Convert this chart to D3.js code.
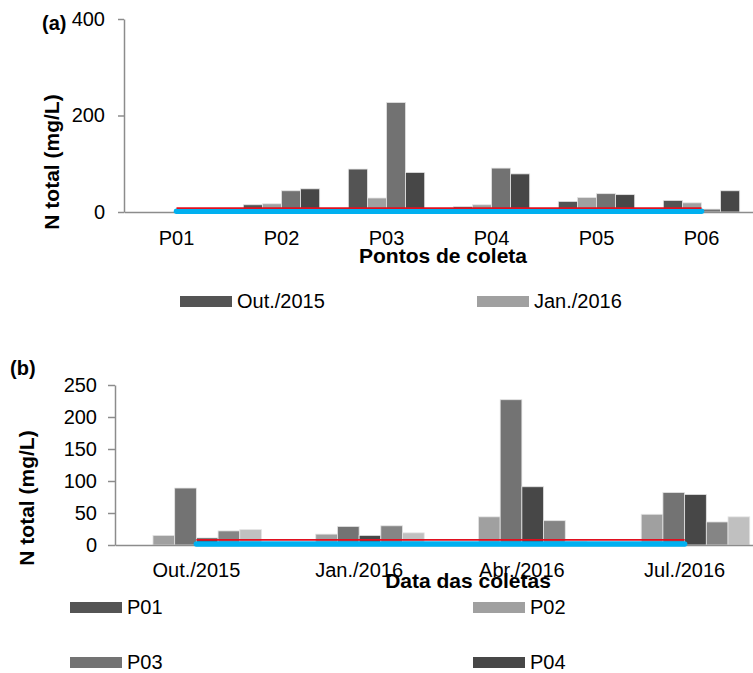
<!DOCTYPE html>
<html>
<head>
<meta charset="utf-8">
<script src="https://cdn.jsdelivr.net/npm/d3@7"></script>
<style>
  body { margin: 0; background: #fff; }
  svg { display: block; font-family: "Liberation Sans", Arial, sans-serif; }
</style>
</head>
<body>
<div id="main"></div>
<script>
// dados
const pontos = ['P01', 'P02', 'P03', 'P04', 'P05', 'P06'];
const datas = ['Out./2015', 'Jan./2016', 'Abr./2016', 'Jul./2016'];
const out2015 = [0, 15, 89, 11, 22, 24];
const jan2016 = [0, 17, 29, 15, 30, 19];
const abr2016 = [0, 44, 227, 91, 38, 6];
const jul2016 = [0, 48, 82, 79, 36, 44];
const ticksA = [0, 200, 400];
const ticksB = [0, 50, 100, 150, 200, 250];
const limiteVermelho = 8;
const limiteAzul = 1.5;

const coresDatas = ['#545454', '#a0a0a0', '#727272', '#474747'];
const coresPontos = ['#545454', '#a0a0a0', '#737373', '#474747', '#858585', '#c0c0c0'];

const series = [out2015, jan2016, abr2016, jul2016];

const svg = d3.select('#main').append('svg')
  .attr('width', 753)
  .attr('height', 673);

let drawPanel = (opt) => {
  let g = svg.append('g');
  let x0 = d3.scaleBand().domain(opt.cats).range(opt.xRange).padding(0);
  let x1 = d3.scaleBand().domain(opt.keys).range([0, x0.bandwidth()]).paddingInner(0).paddingOuter(0.75);
  let y = d3.scaleLinear().domain(opt.yDomain).range(opt.yRange);

  // barras
  g.selectAll('g.grupo')
    .data(opt.rows)
    .enter().append('g')
    .attr('class', 'grupo')
    .attr('transform', d => 'translate(' + x0(d.cat) + ',0)')
    .selectAll('rect')
    .data(d => d.vals)
    .enter().append('rect')
    .attr('x', d => x1(d.key))
    .attr('width', x1.bandwidth())
    .attr('y', d => y(d.value))
    .attr('height', d => y(0) - y(d.value))
    .attr('fill', (d, i) => opt.colors[i])
    .attr('stroke', '#e4e4e4')
    .attr('stroke-width', 0.8);

  // eixo y
  let ya = g.append('g')
    .attr('transform', 'translate(' + opt.xRange[0] + ',0)')
    .call(d3.axisLeft(y).tickValues(opt.ticks).tickSize(opt.tickSize).tickSizeOuter(0).tickPadding(opt.tickPad));
  ya.select('.domain').attr('stroke', '#8c8c8c').attr('stroke-width', 1.5);
  ya.selectAll('.tick line').attr('stroke', '#8c8c8c').attr('stroke-width', 1.5);
  ya.selectAll('.tick text').attr('font-size', 20).attr('fill', '#000').attr('font-family', null);

  // eixo x
  let xa = g.append('g')
    .attr('transform', 'translate(0,' + y(0) + ')')
    .call(d3.axisBottom(x0).tickSize(0).tickPadding(opt.xPad));
  xa.select('.domain').attr('stroke', '#8c8c8c').attr('stroke-width', 1.5);
  xa.selectAll('.tick text').attr('font-size', 20).attr('fill', '#000').attr('font-family', null);

  // linhas de referencia
  let c0 = x0(opt.cats[0]) + x0.bandwidth() / 2;
  let c1 = x0(opt.cats[opt.cats.length - 1]) + x0.bandwidth() / 2;
  g.append('line')
    .attr('x1', c0).attr('x2', c1)
    .attr('y1', y(limiteAzul)).attr('y2', y(limiteAzul))
    .attr('stroke', '#00b0f0').attr('stroke-width', 5.5).attr('stroke-linecap', 'round');
  g.append('line')
    .attr('x1', c0).attr('x2', c1)
    .attr('y1', y(limiteVermelho)).attr('y2', y(limiteVermelho))
    .attr('stroke', '#e01020').attr('stroke-width', 1.8);

  // titulos
  g.append('text')
    .attr('transform', 'translate(' + opt.yTitle[0] + ',' + opt.yTitle[1] + ') rotate(-90)')
    .attr('text-anchor', 'middle')
    .attr('font-size', 21).attr('font-weight', 'bold')
    .text('N total (mg/L)');
  g.append('text')
    .attr('x', opt.xTitle[0]).attr('y', opt.xTitle[1])
    .attr('text-anchor', 'middle')
    .attr('font-size', 21).attr('font-weight', 'bold')
    .text(opt.xLabel);
  g.append('text')
    .attr('x', opt.tag[0]).attr('y', opt.tag[1])
    .attr('font-size', 20).attr('font-weight', 'bold')
    .text(opt.tagText);

  // legenda
  let lg = g.selectAll('g.leg')
    .data(opt.legend)
    .enter().append('g')
    .attr('class', 'leg')
    .attr('transform', d => 'translate(' + d.x + ',' + d.y + ')');
  lg.append('rect')
    .attr('x', 0).attr('y', -11).attr('width', 52).attr('height', 11)
    .attr('fill', d => d.color);
  lg.append('text')
    .attr('x', 57).attr('y', 0).attr('dy', 1)
    .attr('font-size', 20)
    .text(d => d.label);
};

// painel (a): por ponto de coleta
drawPanel({
  cats: pontos,
  keys: datas,
  rows: pontos.map((p, i) => ({cat: p, vals: datas.map((d, j) => ({key: d, value: series[j][i]}))})),
  colors: coresDatas,
  xRange: [124, 754],
  yDomain: [0, 400],
  yRange: [212, 19],
  ticks: ticksA,
  tickSize: 6,
  tickPad: 13,
  xPad: 19,
  yTitle: [59, 162],
  xTitle: [443, 263],
  xLabel: 'Pontos de coleta',
  tag: [42, 30],
  tagText: '(a)',
  legend: [
    {x: 180, y: 307, label: datas[0], color: coresDatas[0]},
    {x: 477, y: 307, label: datas[1], color: coresDatas[1]}
  ]
});

// painel (b): por data
drawPanel({
  cats: datas,
  keys: pontos,
  rows: datas.map((d, j) => ({cat: d, vals: pontos.map((p, i) => ({key: p, value: series[j][i]}))})),
  colors: coresPontos,
  xRange: [115, 766],
  yDomain: [0, 250],
  yRange: [545, 385],
  ticks: ticksB,
  tickSize: 7,
  tickPad: 11,
  xPad: 18,
  yTitle: [34, 498],
  xTitle: [468, 588],
  xLabel: 'Data das coletas',
  tag: [10, 375],
  tagText: '(b)',
  legend: [
    {x: 70, y: 613, label: pontos[0], color: coresPontos[0]},
    {x: 473, y: 613, label: pontos[1], color: coresPontos[1]},
    {x: 70, y: 668, label: pontos[2], color: coresPontos[2]},
    {x: 473, y: 668, label: pontos[3], color: coresPontos[3]}
  ]
});
</script>
</body>
</html>
